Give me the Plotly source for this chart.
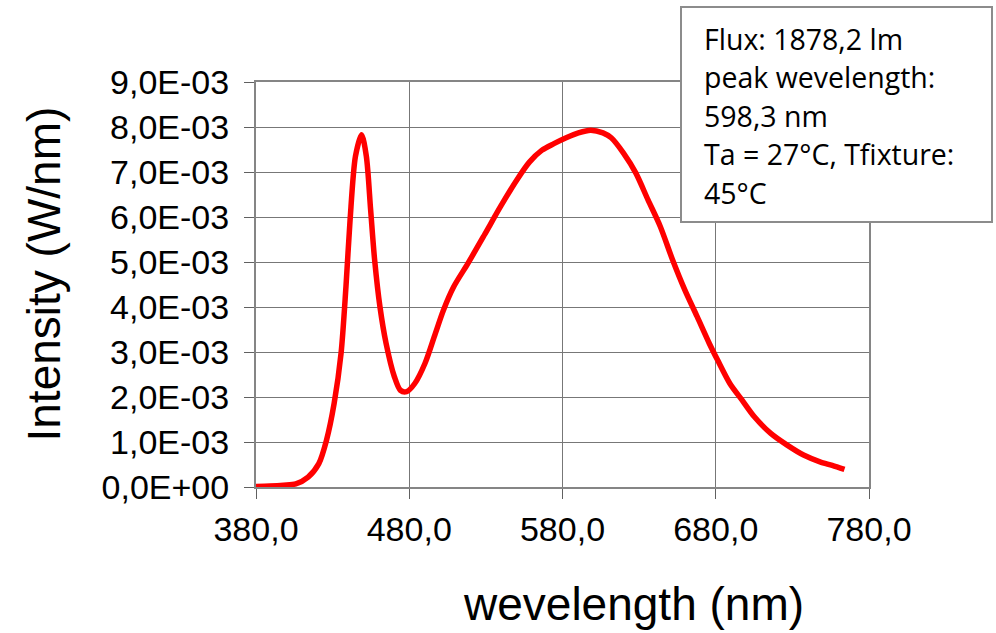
import plotly.graph_objects as go

# Spectrum data
wavelength = [380, 389, 398, 406, 414, 421, 426, 431, 435.5, 438.7, 441.4, 444.9, 448.9,
              452, 454.8, 457.4, 460.9, 464.9, 470.3, 474.2, 478.3, 483.6, 490.3, 497,
              502.3, 509, 518.3, 529, 539.7, 550.3, 558.4, 566.4, 574.4, 582.4, 590.4,
              598.4, 606.4, 611.8, 619.8, 627.8, 635.8, 643.8, 651.8, 659.8, 667.8,
              675.8, 681.2, 689.2, 697.2, 705.2, 715.9, 726.6, 737.3, 748, 756, 764]
intensity = [0.00001, 0.00002, 0.00004, 0.00007, 0.00022, 0.00052, 0.00104, 0.00186, 0.00297,
             0.00445, 0.00594, 0.00735, 0.00783, 0.00735, 0.00616, 0.00505, 0.00400,
             0.00319, 0.00245, 0.00215, 0.00212, 0.00230, 0.00275, 0.00341, 0.00393,
             0.00445, 0.00497, 0.00560, 0.00624, 0.00683, 0.00722, 0.00748, 0.00763,
             0.00776, 0.00787, 0.00793, 0.00787, 0.00776, 0.00742, 0.00698, 0.00638,
             0.00579, 0.00505, 0.00438, 0.00379, 0.00319, 0.00282, 0.00230, 0.00193,
             0.00156, 0.00119, 0.00093, 0.00071, 0.00056, 0.00048, 0.00039]

x_tickvals = [380, 480, 580, 680, 780]
x_ticktext = ["380,0", "480,0", "580,0", "680,0", "780,0"]
y_tickvals = [0, 0.001, 0.002, 0.003, 0.004, 0.005, 0.006, 0.007, 0.008, 0.009]
y_ticktext = ["0,0E+00", "1,0E-03", "2,0E-03", "3,0E-03", "4,0E-03",
              "5,0E-03", "6,0E-03", "7,0E-03", "8,0E-03", "9,0E-03"]

info_lines = ["Flux: 1878,2 lm", "peak wevelength:", "598,3 nm",
              "Ta = 27°C, Tfixture:", "45°C"]

W, H = 996, 633
L, R, T, B = 256, 127, 82, 146
PW, PH = W - L - R, H - T - B


def px(x):
    return (x - L) / PW


def py(y):
    return (H - B - y) / PH


fig = go.Figure()
fig.add_trace(go.Scatter(x=wavelength, y=intensity, mode="lines",
                         line=dict(color="#ff0000", width=5.5, shape="spline", smoothing=0.8),
                         showlegend=False, hoverinfo="skip"))

axis_common = dict(showgrid=True, gridcolor="#777777", gridwidth=1,
                   showline=True, linecolor="#858585", linewidth=2, mirror=True,
                   ticks="outside", ticklen=10, tickwidth=1.2, tickcolor="#606060",
                   tickfont=dict(family="Liberation Sans, Arial", size=34, color="black"),
                   zeroline=False, fixedrange=True)

fig.update_xaxes(range=[380, 780], tickvals=x_tickvals, ticktext=x_ticktext,
                 ticklabelstandoff=1, **axis_common)
fig.update_yaxes(range=[0, 0.009], tickvals=y_tickvals, ticktext=y_ticktext,
                 ticklabelstandoff=8, **axis_common)

annotations = [
    dict(text="Intensity (W/nm)", textangle=-90, xref="paper", yref="paper",
         x=px(43), y=py(274.5), xanchor="center", yanchor="middle", showarrow=False,
         font=dict(family="Liberation Sans, Arial", size=46, color="black")),
    dict(text="wevelength (nm)", xref="paper", yref="paper",
         x=px(633), y=py(604), xanchor="center", yanchor="middle", showarrow=False,
         font=dict(family="Liberation Sans, Arial", size=46, color="black")),
]
line_centers = [38.8, 77.3, 115.8, 154.3, 192.8]
for txt, yc in zip(info_lines, line_centers):
    annotations.append(dict(text=txt, xref="paper", yref="paper", x=px(702), y=py(yc),
                            xanchor="left", yanchor="middle", showarrow=False,
                            font=dict(family="Open Sans", size=28.5, color="black")))

fig.update_layout(
    width=W, height=H,
    margin=dict(l=L, r=R, t=T, b=B),
    paper_bgcolor="white", plot_bgcolor="white",
    annotations=annotations,
    shapes=[dict(type="rect", xref="paper", yref="paper",
                 x0=px(681), x1=px(992), y0=py(222), y1=py(7),
                 line=dict(color="#8c8c8c", width=2), fillcolor="white", layer="above")],
)

fig.write_html("out.html", config={"displayModeBar": False},
               post_script="document.body.style.margin='0';document.body.style.overflow='hidden';")
